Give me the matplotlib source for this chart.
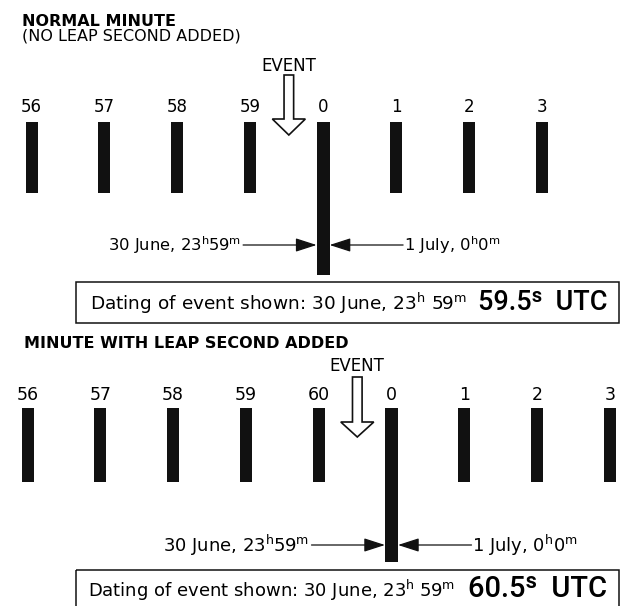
# leap second diagram - normal minute vs minute with leap second added
# two rows of second marks, event arrow, dating boxes

import matplotlib
matplotlib.use("Agg")
import matplotlib.pyplot as plt
from matplotlib.patches import Rectangle, Polygon

plt.rcParams["font.family"] = ["DejaVu Sans"]
plt.rcParams["mathtext.fontset"] = "dejavusans"

# the data - second labels on each row
normal_seconds = ["56", "57", "58", "59", "0", "1", "2", "3"]
leap_seconds = ["56", "57", "58", "59", "60", "0", "1", "2", "3"]
event_second = "0"

normal_title = "NORMAL MINUTE"
normal_subtitle = "(NO LEAP SECOND ADDED)"
leap_title = "MINUTE WITH LEAP SECOND ADDED"

left_label = r"30 June, 23$^\mathrm{h}$59$^\mathrm{m}$"
right_label = r"1 July, 0$^\mathrm{h}$0$^\mathrm{m}$"
dating_text = r"Dating of event shown: 30 June, 23$^\mathrm{h}$ 59$^\mathrm{m}$"
normal_utc = "59.5ˢ  UTC"
leap_utc = "60.5ˢ  UTC"

W, H = 622, 606
fig = plt.figure(figsize=(W / 100, H / 100), dpi=100)

# pixel axes for the free text and the boxes
axp = fig.add_axes([0, 0, 1, 1])
axp.set_xlim(0, W)
axp.set_ylim(H, 0)
axp.axis("off")

INK = "#111111"
UTC_FONT = ["Roboto", "DejaVu Sans"]


def draw_row(x0, step, labels, lab_y, bar_top, bar_bot, event_bot, arrow_y,
             event_y, arrow_top, head_top, head_tip, lab_fs, ann_fs):
    # one axes per row: x in "slot" units, y in pixels
    ax = fig.add_axes([0, 0, 1, 1])
    ax.set_xlim(-x0 / step, (W - x0) / step)
    ax.set_ylim(H, 0)
    ax.axis("off")
    ax.patch.set_alpha(0)

    pos = list(range(len(labels)))
    ev = labels.index(event_second)
    normal_pos = [p for p in pos if p != ev]
    ax.bar(normal_pos, [bar_bot - bar_top] * len(normal_pos), bottom=bar_top,
           width=12 / step, color=INK, linewidth=0)
    ax.bar([ev], [event_bot - bar_top], bottom=bar_top, width=13 / step,
           color=INK, linewidth=0)
    for p, lab in zip(pos, labels):
        ax.text(p, lab_y, lab, ha="center", va="center", fontsize=lab_fs)

    # hollow EVENT arrow halfway before the event bar
    cx = ev - 0.47
    sh = 4.8 / step
    hh = 16.5 / step
    arrow = Polygon([(cx - sh, arrow_top), (cx + sh, arrow_top), (cx + sh, head_top),
                     (cx + hh, head_top), (cx, head_tip), (cx - hh, head_top),
                     (cx - sh, head_top)], closed=True, facecolor="white",
                    edgecolor=INK, linewidth=1.2, joinstyle="miter")
    ax.add_patch(arrow)
    ax.text(cx, event_y, "EVENT", ha="center", va="center", fontsize=12)

    # the two arrows pointing at the event bar
    half = 6.5 / step
    reach = 80 / step
    aprops = dict(arrowstyle="-|>,head_length=1.3,head_width=0.42",
                  mutation_scale=10, color=INK, lw=0.9, shrinkA=0, shrinkB=0)
    ax.annotate("", xy=(ev - half, arrow_y), xytext=(ev - reach, arrow_y),
                arrowprops=aprops)
    ax.annotate("", xy=(ev + half, arrow_y), xytext=(ev + reach, arrow_y),
                arrowprops=aprops)
    ax.text(ev - reach - 2 / step, arrow_y, left_label, ha="right",
            va="center", fontsize=ann_fs)
    ax.text(ev + reach + 1 / step, arrow_y, right_label, ha="left",
            va="center", fontsize=ann_fs)
    return ax


# top row - normal minute
axp.text(22, 21, normal_title, fontsize=11.5, fontweight="bold", va="center")
axp.text(22, 36, normal_subtitle, fontsize=11.5, va="center")
draw_row(31.5, 72.9, normal_seconds, lab_y=107, bar_top=122, bar_bot=193,
         event_bot=275, arrow_y=245, event_y=66, arrow_top=75, head_top=119,
         head_tip=135, lab_fs=12, ann_fs=11.8)
axp.add_patch(Rectangle((76, 282), 543, 41, fill=False, edgecolor=INK, lw=1.1))
axp.text(467, 303, dating_text, ha="right", va="center", fontsize=13.3)
axp.text(607, 302, normal_utc, ha="right", va="center", fontsize=19.5,
         family=UTC_FONT, fontweight="medium")

# bottom row - leap second
axp.text(24, 343, leap_title, fontsize=11.5, fontweight="bold", va="center")
draw_row(27.5, 72.8, leap_seconds, lab_y=395, bar_top=408, bar_bot=482,
         event_bot=562, arrow_y=545, event_y=366, arrow_top=377, head_top=422,
         head_tip=437, lab_fs=12.5, ann_fs=13)
axp.add_patch(Rectangle((76, 570), 543, 60, fill=False, edgecolor=INK, lw=1.1))
axp.text(455, 590, dating_text, ha="right", va="center", fontsize=13)
axp.text(607, 589, leap_utc, ha="right", va="center", fontsize=21,
         family=UTC_FONT, fontweight="medium")

plt.savefig("out.png", dpi=100)
plt.close()
